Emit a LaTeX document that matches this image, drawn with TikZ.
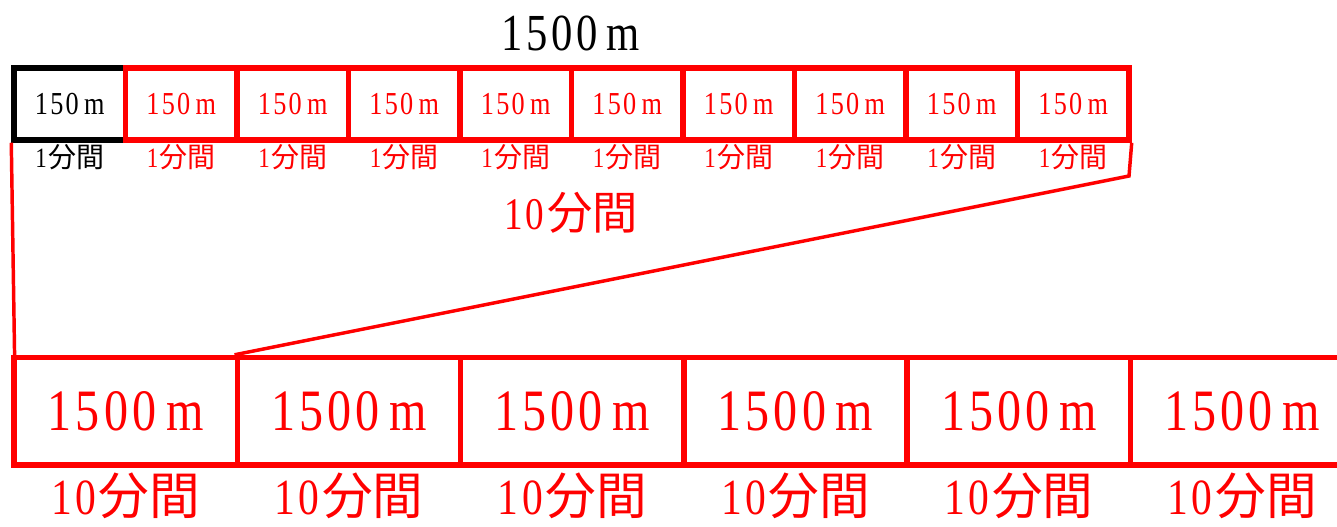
\documentclass[tikz,border=0pt]{standalone}
\usepackage{fontspec}
\setmainfont{Liberation Serif}[FakeStretch=0.82, LetterSpace=7]
\newfontfamily\jp{Noto Sans CJK JP}
\definecolor{rd}{RGB}{255,0,0}
\begin{document}
\begin{tikzpicture}[x=0.75pt,y=-0.75pt,
  tbox/.style={draw=rd, line width=4.1pt, minimum width=83.6pt, minimum height=54pt, inner sep=0pt, text=rd, font=\fontsize{24}{24}\selectfont},
  bbox/.style={draw=rd, line width=4.1pt, minimum width=167.5pt, minimum height=80.6pt, inner sep=0pt, text=rd, font=\fontsize{44}{44}\selectfont},
  lab/.style={text=rd, font=\fontsize{21}{21}\selectfont, inner sep=0pt},
  blab/.style={text=rd, font=\fontsize{38}{38}\selectfont, inner sep=0pt},
  thinline/.style={draw=rd, line width=2.6pt}]
\clip (0,0) rectangle (1337,526);
% title
\node[inner sep=0pt, font=\fontsize{39}{39}\selectfont] (title) at (571,33) {1500\,m};
% top row
\node[tbox, draw=black, text=black] (t1) at (69.75,104) {150\,m};
\foreach \i in {2,...,10}
  \node[tbox] (t\i) at ({14+111.5*(\i-0.5)},104) {150\,m};
\node[lab, text=black] (l1) at (69.75,157) {1\kern1pt{\jp 分間}};
\foreach \i in {2,...,10}
  \node[lab] (l\i) at ({14+111.5*(\i-0.5)},157) {1\kern1pt{\jp 分間}};
% middle label
\node[inner sep=0pt, text=rd, font=\fontsize{34}{34}\selectfont] (mid) at (571,213) {10\kern2pt{\jp 分間}};
% bottom row
\foreach \i in {1,...,6}
  \node[bbox] (b\i) at ({14+223.3*(\i-0.5)},411.25) {1500\,m};
\foreach \i in {1,...,6}
  \node[blab] (bl\i) at ({14+223.3*(\i-0.5)},496) {10\kern2pt{\jp 分間}};
% connectors
\coordinate (r) at (1129,176);
\draw[thinline] (t1.south west) -- ([xshift=2.5pt]b1.north west);
\draw[thinline] (t10.south east) -- (r) -- (b2.north west);
\end{tikzpicture}
\end{document}
